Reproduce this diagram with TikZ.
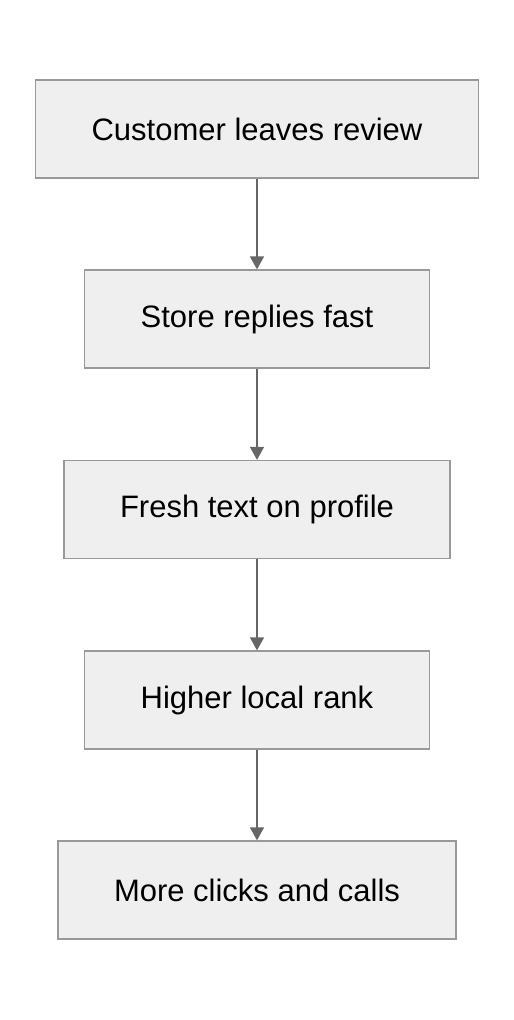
\documentclass[tikz,border=0pt]{standalone}
\usepackage{fontspec}
\setmainfont{Liberation Sans}
\usetikzlibrary{arrows.meta}
\definecolor{boxfill}{HTML}{EFEFEF}
\definecolor{boxline}{HTML}{999999}
\definecolor{arrowline}{HTML}{666666}
\tikzset{
  stagebox/.style={draw=boxline, fill=boxfill, line width=1.3pt,
    minimum height=98pt, inner xsep=56pt,
    font=\fontsize{31}{36}\selectfont},
  flow/.style={draw=arrowline, line width=1.6pt,
    -{Triangle[length=13pt,width=14pt]}}
}
\begin{document}
\begin{tikzpicture}[x=1pt,y=1pt]
            \useasboundingbox (0, 0) rectangle (514, -1020);

            \coordinate (P1) at (257, -129);
            \coordinate (P2) at (257, -319);
            \coordinate (P3) at (257, -509.5);
            \coordinate (P4) at (257, -700);
            \coordinate (P5) at (257, -890);

            \node[stagebox] (review) at (P1) { Customer leaves review };
            \node[stagebox] (reply)  at (P2) { Store replies fast };
            \node[stagebox] (fresh)  at (P3) { Fresh text on profile };
            \node[stagebox] (rank)   at (P4) { Higher local rank };
            \node[stagebox] (clicks) at (P5) { More clicks and calls };

            \draw[flow] (review) -- (reply);
            \draw[flow] (reply) -- (fresh);
            \draw[flow] (fresh) -- (rank);
            \draw[flow] (rank) -- (clicks);

        \end{tikzpicture}
\end{document}
